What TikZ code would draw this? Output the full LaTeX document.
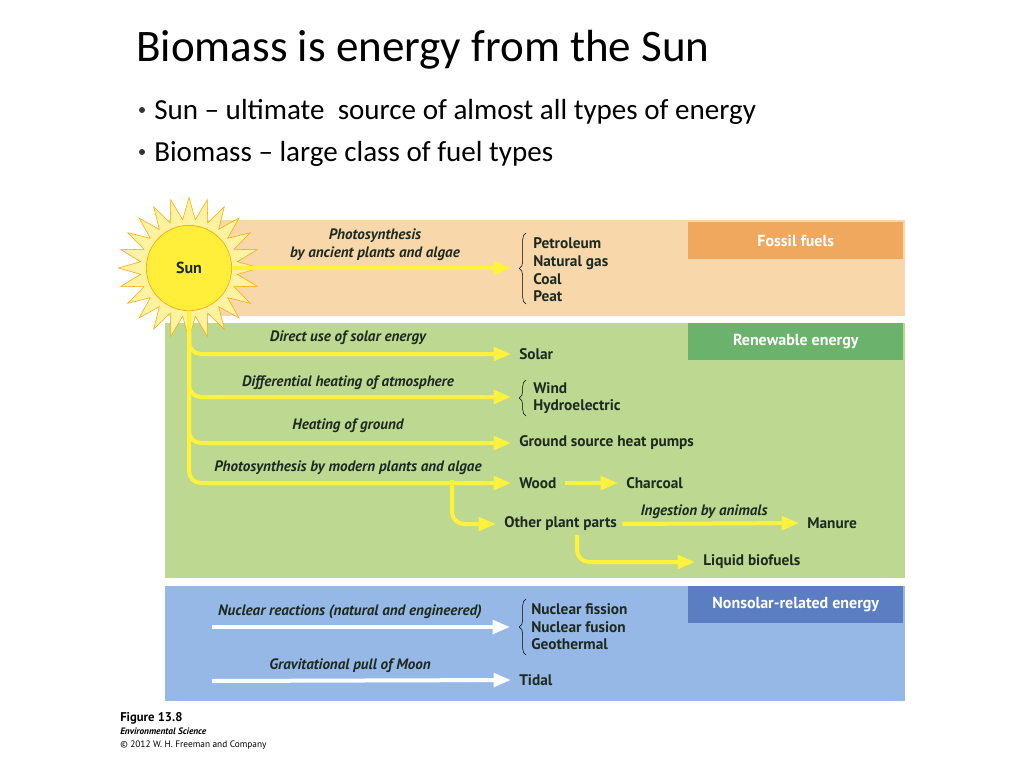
\documentclass[tikz,border=0pt]{standalone}
\usepackage{fontspec}
\setmainfont{Carlito}
\newfontfamily\figfont{PT Sans}
\usetikzlibrary{arrows.meta,shapes.geometric,decorations.pathreplacing}
\definecolor{fossilbg}{HTML}{F8D8AA}
\definecolor{fossilhd}{HTML}{EFA85E}
\definecolor{renewbg}{HTML}{BDD891}
\definecolor{renewhd}{HTML}{6BB36C}
\definecolor{nonsolbg}{HTML}{95B8E6}
\definecolor{nonsolhd}{HTML}{5B7EC2}
\definecolor{sunyel}{HTML}{FFEF3A}
\definecolor{rayyel}{HTML}{FFF2A0}
\definecolor{flowyel}{HTML}{FFF23A}
\definecolor{txt}{HTML}{1E2A20}
\tikzset{
  item/.style={anchor=west, inner sep=0pt, font=\figfont\bfseries\fontsize{11.5}{13.2}\selectfont, text=txt},
  lbl/.style={inner sep=0pt, font=\figfont\bfseries\itshape\fontsize{11.3}{13.2}\selectfont, text=txt},
  head/.style={anchor=north west, minimum width=161.25pt, minimum height=27.75pt, font=\figfont\bfseries\fontsize{12}{14}\selectfont, text=white},
  flow/.style={draw=flowyel, line width=3pt, rounded corners=9pt, -{Triangle[length=13pt,width=10pt]}},
  wflow/.style={flow, draw=white},
  bullet/.style={anchor=west, inner sep=0pt, font=\fontsize{21.8}{24}\selectfont},
  dot/.style={circle, fill=black!80, inner sep=0pt, minimum size=4.5pt}
}
\begin{document}
\begin{tikzpicture}[x=0.75pt, y=-0.75pt]
  \useasboundingbox (0,0) rectangle (1024,768);
  % title and bullets
  \node[anchor=west, inner sep=0pt, font=\fontsize{33.8}{38}\selectfont] (title) at (136,50) {Biomass is energy from the Sun};
  \node[dot] (d1) at (142,110) {};
  \node[bullet] (b1) at (154,112) {Sun – ultimate\ \ source of almost all types of energy};
  \node[dot] (d2) at (142,152) {};
  \node[bullet] (b2) at (154,154) {Biomass – large class of fuel types};
  % bands
  \fill[fossilbg] (165,220) rectangle (905,316);
  \fill[renewbg] (165,323) rectangle (905,578);
  \fill[nonsolbg] (165,586) rectangle (905,701);
  \node[head, fill=fossilhd] (fossil) at (688,222) {Fossil fuels};
  \node[head, fill=renewhd] (renew) at (688,323) {Renewable energy};
  \node[head, fill=nonsolhd] (nonsol) at (688,586) {Nonsolar-related energy};
  % sun
  \node[star, star points=24, star point ratio=1.45, minimum size=106pt, fill=rayyel, draw=orange!70!yellow, thin] (rays) at (189,268) {};
  \node[circle, minimum size=64pt, fill=sunyel, draw=orange!80!yellow, thin, font=\figfont\bfseries\fontsize{12}{14}\selectfont, text=txt] (sun) at (189,268) {Sun};
  % fossil
  \node[lbl, align=center] (lphot) at (375,245) {Photosynthesis\\by ancient plants and algae};
  \node[item, align=left] (fossils) at (533,270) {Petroleum\\Natural gas\\Coal\\Peat};
  \draw[decorate, decoration={brace, amplitude=5pt}] (526,304) -- (526,233);
  \draw[flow] (sun.east) -- (511,268);
  % renewable
  \node[item] (solar) at (519,354) {Solar};
  \node[item, align=left] (wind) at (533,398) {Wind\\Hydroelectric};
  \draw[decorate, decoration={brace, amplitude=5pt}] (526,416) -- (526,380);
  \node[item] (ground) at (519,443) {Ground source heat pumps};
  \node[item] (wood) at (519,483) {Wood};
  \node[item] (charcoal) at (626,483) {Charcoal};
  \node[item] (other) at (504,524) {Other plant parts};
  \node[item] (manure) at (807,523) {Manure};
  \node[item] (liquid) at (703,562) {Liquid biofuels};
  \node[lbl] (ldirect) at (348,338) {Direct use of solar energy};
  \node[lbl] (ldiff) at (348,383) {Differential heating of atmosphere};
  \node[lbl] (lheat) at (348,426) {Heating of ground};
  \node[lbl] (lmod) at (348,468) {Photosynthesis by modern plants and algae};
  \node[lbl] (lingest) at (704,512) {Ingestion by animals};
  \draw[flow] (sun.south) |- ([xshift=-6pt]solar.west);
  \draw[flow] (sun.south) |- (511,397);
  \draw[flow] (sun.south) |- ([xshift=-6pt]ground.west);
  \draw[flow] (sun.south) |- ([xshift=-6pt]wood.west);
  \draw[flow] (452,480) |- ([xshift=-6pt]other.west);
  \draw[flow] ([xshift=6pt]wood.east) -- ([xshift=-6pt]charcoal.west);
  \draw[flow] ([xshift=4pt]other.east) -- ([xshift=-6pt]manure.west);
  \draw[flow] (577,535) |- ([xshift=-6pt]liquid.west);
  % nonsolar
  \node[item, align=left] (nuclear) at (531,627) {Nuclear fission\\Nuclear fusion\\Geothermal};
  \draw[decorate, decoration={brace, amplitude=5pt}] (526,655) -- (526,599);
  \node[item] (tidal) at (519,680) {Tidal};
  \node[lbl] (lnuc) at (350,612) {Nuclear reactions (natural and engineered)};
  \node[lbl] (lgrav) at (350,666) {Gravitational pull of Moon};
  \draw[wflow] (212,627) -- (510,627);
  \draw[wflow] (212,681) -- ([xshift=-6pt]tidal.west);
  % caption
  \node[anchor=west, inner sep=0pt, font=\figfont\bfseries\fontsize{9.5}{10}\selectfont] (fig) at (120,718) {Figure 13.8};
  \node[anchor=west, inner sep=0pt, font=\figfont\bfseries\itshape\fontsize{7}{8}\selectfont] (book) at (120,731) {Environmental Science};
  \node[anchor=west, inner sep=0pt, font=\figfont\fontsize{7}{8}\selectfont] (copy) at (120,745) {© 2012 W. H. Freeman and Company};
\end{tikzpicture}
\end{document}
